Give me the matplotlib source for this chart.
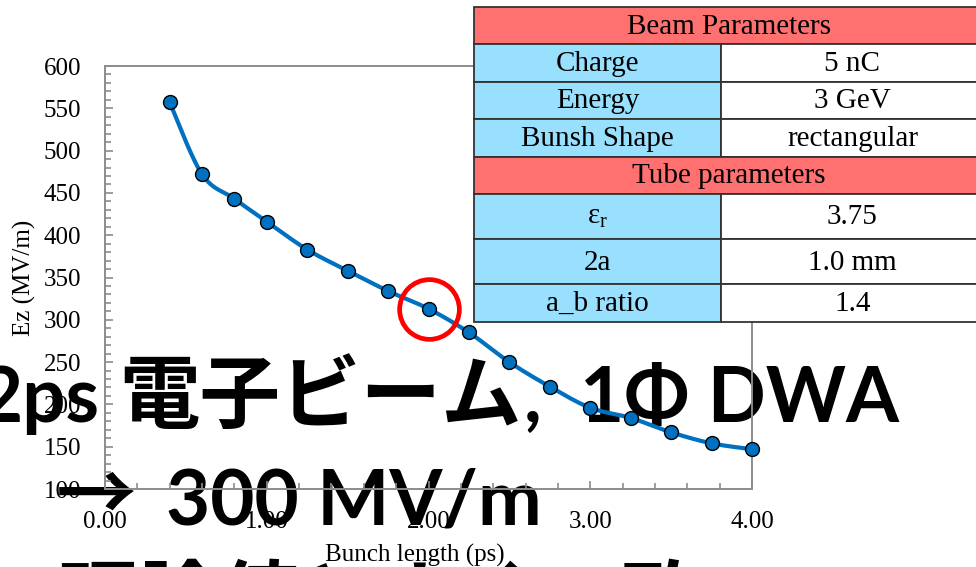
import numpy as np
import matplotlib
matplotlib.use("Agg")
import matplotlib.pyplot as plt
from matplotlib.patches import Rectangle
from matplotlib.ticker import MultipleLocator, FormatStrFormatter

# ---- data -------------------------------------------------------------
bunch_length_ps = [0.40, 0.60, 0.80, 1.00, 1.25, 1.50, 1.75, 2.00,
                   2.25, 2.50, 2.75, 3.00, 3.25, 3.50, 3.75, 4.00]
ez_mv_per_m = [557, 472, 443, 416, 383, 358, 334, 313,
               285, 250, 221, 196, 184, 167, 154, 147]
highlight_index = 7          # 2 ps point

x_ticks = [0.0, 1.0, 2.0, 3.0, 4.0]
y_ticks = [100, 150, 200, 250, 300, 350, 400, 450, 500, 550, 600]

beam_header = "Beam Parameters"
beam_labels = ["Charge", "Energy", "Bunsh Shape"]
beam_values = ["5 nC", "3 GeV", "rectangular"]
tube_header = "Tube parameters"
tube_labels = [r"ε$_{\mathregular{r}}$", "2a", "a_b ratio"]
tube_values = ["3.75", "1.0 mm", "1.4"]

title_line1 = ["2ps", "電子ビーム", ",", "1Φ DWA"]
title_line2 = ["→", "300 MV/m"]
title_line3 = "理論値とよく一致"

# ---- figure -----------------------------------------------------------
W, H, DPI = 976, 567, 100
plt.rcParams["mathtext.fontset"] = "custom"
plt.rcParams["mathtext.rm"] = "Liberation Serif"
fig = plt.figure(figsize=(W / DPI, H / DPI), dpi=DPI, facecolor="white")

def px_axes(z):
    a = fig.add_axes([0, 0, 1, 1], zorder=z)
    a.set_xlim(0, W)
    a.set_ylim(H, 0)
    a.axis("off")
    a.patch.set_alpha(0)
    return a

# big slide text (underneath the chart)
tax = px_axes(0)
latin = dict(family=["Lato", "Noto Sans CJK JP"], weight="bold",
             fontsize=55, color="black", va="baseline")
cjk = dict(family=["Noto Sans CJK JP"], weight="bold",
           fontsize=58, color="black", va="baseline")
tax.text(99, 422, title_line1[0], ha="right", **latin)
tax.text(119, 422, title_line1[1], ha="left", **cjk)
tax.text(524, 422, title_line1[2], ha="left", **latin)
tax.text(580, 422, title_line1[3], ha="left", **latin)
tax.text(56, 498, title_line2[0], ha="left",
         **{**cjk, "va": "center"})
tax.text(166, 524, title_line2[1], ha="left", **latin)
tax.text(58, 626, title_line3, ha="left", **cjk)

# chart
ax = fig.add_axes([105 / W, 1 - 489 / H, 647 / W, 423 / H], zorder=1)
ax.patch.set_alpha(0)
ax.set_xlim(0, 4)
ax.set_ylim(100, 600)

# smoothed line (Excel-style Bezier) evaluated in screen-proportional space
xs = np.asarray(bunch_length_ps, float)
ys = np.asarray(ez_mv_per_m, float)
sx, sy = 647 / 4.0, 423 / 500.0
P = np.column_stack([xs * sx, ys * sy])
Pp = np.vstack([P[0], P, P[-1]])
curve = []
t = np.linspace(0, 1, 30)[:, None]
for i in range(len(P) - 1):
    p0, p1, p2, p3 = Pp[i], Pp[i + 1], Pp[i + 2], Pp[i + 3]
    b1 = p1 + (p2 - p0) / 6.0
    b2 = p2 - (p3 - p1) / 6.0
    seg = ((1 - t) ** 3) * p1 + 3 * ((1 - t) ** 2) * t * b1 \
        + 3 * (1 - t) * t ** 2 * b2 + t ** 3 * p2
    curve.append(seg)
curve = np.vstack(curve)
ax.plot(curve[:, 0] / sx, curve[:, 1] / sy, color="#0070C0", lw=3.0,
        solid_capstyle="round", zorder=3)
ax.plot(xs, ys, "o", ms=10, mfc="#0070C0", mec="black", mew=1.0,
        zorder=4, clip_on=False)
ax.plot([xs[highlight_index]], [ys[highlight_index]], "o", ms=43,
        mfc="none", mec="#FF0000", mew=3.4, zorder=5, clip_on=False)

grey = "#8c8c8c"
for s in ax.spines.values():
    s.set_color(grey)
    s.set_linewidth(1.4)
ax.set_xticks(x_ticks)
ax.set_yticks(y_ticks)
ax.xaxis.set_major_formatter(FormatStrFormatter("%.2f"))
ax.xaxis.set_minor_locator(MultipleLocator(0.2))
ax.yaxis.set_minor_locator(MultipleLocator(10))
ax.tick_params(which="both", direction="in", color=grey, width=1.2,
               labelsize=18, labelcolor="black")
ax.tick_params(which="major", length=6)
ax.tick_params(which="minor", length=4)
ax.tick_params(axis="y", pad=17)
ax.tick_params(axis="x", pad=16)
for lab in ax.get_xticklabels() + ax.get_yticklabels():
    lab.set_family("Liberation Serif")
ax.set_xlabel("Bunch length (ps)", family="Liberation Serif", fontsize=18)
ax.set_ylabel("Ez (MV/m)", family="Liberation Serif", fontsize=18)
ax.xaxis.set_label_coords(0.479, -0.13)
ax.yaxis.set_label_coords(-0.106, 0.5)

# parameter table (on top)
tb = px_axes(2)
x0, xm, x1 = 474, 721, 984
rows = [6.7, 44.3, 81.7, 119.0, 156.7, 194.0, 239.0, 284.3, 321.7]
red, blue = "#FF7070", "#99E0FF"
edge = "#333333"
tfont = dict(family="Liberation Serif", fontsize=21, color="black",
             ha="center", va="center")

def header(r, text):
    tb.add_patch(Rectangle((x0, rows[r]), x1 - x0, rows[r + 1] - rows[r],
                           fc=red, ec=edge, lw=1.3))
    tb.text((x0 + x1) / 2, (rows[r] + rows[r + 1]) / 2 + 1, text, **tfont)

def body(r, label, value):
    ya, yb = rows[r], rows[r + 1]
    tb.add_patch(Rectangle((x0, ya), xm - x0, yb - ya, fc=blue, ec=edge, lw=1.3))
    tb.add_patch(Rectangle((xm, ya), x1 - xm, yb - ya, fc="white", ec=edge, lw=1.3))
    tb.text((x0 + xm) / 2, (ya + yb) / 2 + 1, label, **tfont)
    tb.text((xm + x1) / 2, (ya + yb) / 2 + 1, value, **tfont)

header(0, beam_header)
for i, (l, v) in enumerate(zip(beam_labels, beam_values)):
    body(1 + i, l, v)
header(4, tube_header)
for i, (l, v) in enumerate(zip(tube_labels, tube_values)):
    body(5 + i, l, v)

fig.savefig("out.png", dpi=DPI)
